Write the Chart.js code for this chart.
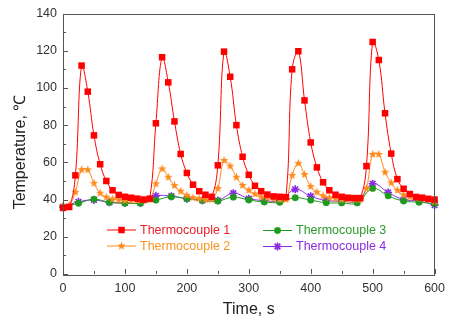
<!DOCTYPE html>
<html><head><meta charset="utf-8">
<script src="https://cdn.jsdelivr.net/npm/chart.js@4.4.1/dist/chart.umd.min.js"></script>
<style>html,body{margin:0;padding:0;background:#fff;}#wrap{width:452px;height:323px;}</style>
</head><body><div id="wrap"><canvas id="c" width="452" height="323"></canvas></div>
<script>
// ---- data ----
const timesA = [0,10,20,30,40,50,60,70,80,90,100,110,120,130,140,150,160,170,180,190,200,210,220,230,240,250,260,270,280,290,300,310,320,330,340,350,360,370,380,390,400,410,420,430,440,450,460,470,480,490,500,510,520,530,540,550,560,570,580,590,600];
const tc1 = [35.5,36,53,112,98,74.5,59,50,45,42.5,41.5,41,40.5,40,40.5,81,116.5,103,82,64.5,54.3,48,44.5,42.6,41.5,58.4,119.5,106,80,63,53.3,47.4,44.5,42.7,41.7,41.5,41.3,110,119.7,93.3,70.7,57.3,49.3,45,42.6,41.5,41,40.8,40.8,58,124.7,115,86.4,64.7,51,45.8,43,41.4,41,40.4,40];
const tc2 = [36.5,37,44,56,56,48.8,43.4,41.3,40.3,39.8,39.5,39.5,39.5,39.5,40,48.5,56.5,52,47.5,44.5,42.3,41,40.5,40,40,46,61,58,52,47.6,45,43,41.5,41,40.5,40,40,53,59.5,53.5,47,44,42,41,40.5,40,40,40,40,46,64.3,64.3,54.7,49,45,42.5,41.5,41,40.5,40,39];
const timesB = [0,25,50,75,100,125,150,175,200,225,250,275,300,325,350,375,400,425,450,475,500,525,550,575,600];
const tc3 = [36,38,40.2,38.5,38,38,39.7,41.5,40.5,39.5,39.2,41.3,39.8,38.7,38.5,41,39.7,38.3,38.2,38.2,46,42,39.2,38.6,37.8];
const tc4 = [36,38.8,39.8,38.5,38.3,38.2,42,41.8,40.5,39.6,39.5,43.4,40.5,39.5,39.3,45.5,41.8,39.5,39.2,39.2,48.5,43.8,40,39.3,37];
const xTicks = [0,100,200,300,400,500,600];
const yTicks = [0,20,40,60,80,100,120,140];
const seriesNames = ['Thermocouple 1','Thermocouple 2','Thermocouple 3','Thermocouple 4'];
const xTitle = 'Time, s';
const yTitle = 'Temperature, \u2103';

// ---- styles ----
const colors = ['#ff0000','#ff8a1c','#1e9a1e','#8a2be2'];
const textColors = ['#e8202a','#f7941d','#2a9a2a','#8a2be2'];
function starCanvas(color, R, r){
  const size = Math.ceil(R*2+2);
  const c = document.createElement('canvas');
  c.width = size; c.height = size;
  const g = c.getContext('2d');
  g.translate(size/2, size/2);
  g.beginPath();
  for(let i=0;i<10;i++){const rad=i%2?r:R;const a=-Math.PI/2+i*Math.PI/5;g.lineTo(rad*Math.cos(a),rad*Math.sin(a));}
  g.closePath(); g.fillStyle=color; g.fill();
  return c;
}
const star5 = starCanvas(colors[1], 4.4, 1.9);
const toXY = (xs, ys) => xs.map((x,i)=>({x:x,y:ys[i]}));

const datasets = [
  {label:seriesNames[0], data:toXY(timesA,tc1), borderColor:colors[0], backgroundColor:colors[0], borderWidth:1,
   pointStyle:'rect', pointRadius:4.6, pointBorderWidth:0, pointBackgroundColor:colors[0]},
  {label:seriesNames[1], data:toXY(timesA,tc2), borderColor:colors[1], backgroundColor:colors[1], borderWidth:1,
   pointStyle:star5, pointRadius:4.5, pointBorderWidth:0},
  {label:seriesNames[2], data:toXY(timesB,tc3), borderColor:colors[2], backgroundColor:colors[2], borderWidth:1,
   pointStyle:'circle', pointRadius:3.2, pointBorderWidth:0.5, pointBorderColor:colors[2], pointBackgroundColor:colors[2]},
  {label:seriesNames[3], data:toXY(timesB,tc4), borderColor:colors[3], backgroundColor:colors[3], borderWidth:1,
   pointStyle:'star', pointRadius:4, pointBorderWidth:1.6, pointBorderColor:colors[3]}
];

const FONT = 'Arial, "Liberation Sans", sans-serif';

const framePlugin = {
  id:'frame',
  afterDatasetsDraw(chart){
    const ctx = chart.ctx, a = chart.chartArea;
    const xs = chart.scales.x, ys = chart.scales.y;
    ctx.save();
    ctx.strokeStyle = '#555'; ctx.lineWidth = 1;
    ctx.strokeRect(Math.round(a.left)+0.5, Math.round(a.top)+0.5, Math.round(a.right-a.left)-1, Math.round(a.bottom-a.top));
    ctx.beginPath();
    xTicks.forEach((v,i)=>{
      const px = Math.round(xs.getPixelForValue(v))+0.5;
      ctx.moveTo(px, a.bottom); ctx.lineTo(px, a.bottom-5);
      if(i<xTicks.length-1){const m=Math.round(xs.getPixelForValue((v+xTicks[i+1])/2))+0.5;ctx.moveTo(m,a.bottom);ctx.lineTo(m,a.bottom-3);}
    });
    yTicks.forEach((v,i)=>{
      const py = Math.round(ys.getPixelForValue(v))+0.5;
      ctx.moveTo(a.left, py); ctx.lineTo(a.left+5, py);
      if(i<yTicks.length-1){const m=Math.round(ys.getPixelForValue((v+yTicks[i+1])/2))+0.5;ctx.moveTo(a.left,m);ctx.lineTo(a.left+3,m);}
    });
    ctx.stroke();
    ctx.restore();
  },
  afterDraw(chart){
    const ctx = chart.ctx, a = chart.chartArea;
    ctx.save();
    // axis titles
    ctx.fillStyle = '#222';
    ctx.font = '16px ' + FONT;
    ctx.textAlign = 'center'; ctx.textBaseline = 'middle';
    ctx.fillText(xTitle, (a.left+a.right)/2, 310);
    ctx.translate(21, 152); ctx.rotate(-Math.PI/2);
    ctx.fillText(yTitle, 0, 0);
    ctx.restore();
    // legend
    ctx.save();
    const pos = [[107,230],[107,246],[263,230.5],[263,246.5]];
    chart.data.datasets.forEach((ds,i)=>{
      const [x0,y0] = pos[i];
      ctx.strokeStyle = ds.borderColor; ctx.lineWidth = 1;
      ctx.beginPath(); ctx.moveTo(x0, y0); ctx.lineTo(x0+29, y0); ctx.stroke();
      ctx.fillStyle = ds.pointBackgroundColor || ds.backgroundColor;
      ctx.strokeStyle = ds.pointBorderColor || ds.borderColor;
      ctx.lineWidth = ds.pointBorderWidth;
      Chart.helpers.drawPoint(ctx, {pointStyle:ds.pointStyle, radius:ds.pointRadius, rotation:0, borderWidth:ds.pointBorderWidth}, x0+14.5, y0);
      ctx.fillStyle = textColors[i];
      ctx.font = '12.5px ' + FONT;
      ctx.textAlign = 'left'; ctx.textBaseline = 'middle';
      ctx.fillText(ds.label, x0+33, y0+0.5);
    });
    ctx.restore();
  }
};

new Chart(document.getElementById('c'), {
  type:'line',
  data:{datasets:datasets},
  options:{
    responsive:false, animation:false, devicePixelRatio:1,
    layout:{padding:{left:0,right:13,top:12,bottom:0}},
    elements:{line:{tension:0.4}},
    datasets:{line:{clip:false}},
    plugins:{legend:{display:false}, tooltip:{enabled:false}},
    scales:{
      x:{type:'linear', min:0, max:600,
         afterBuildTicks:s=>{s.ticks = xTicks.map(v=>({value:v}));},
         afterFit:s=>{s.height = 49;},
         grid:{display:false, drawTicks:false}, border:{display:false},
         ticks:{color:'#333', padding:7, font:{size:12.5, family:FONT}, maxRotation:0}},
      y:{type:'linear', min:0, max:140,
         afterBuildTicks:s=>{s.ticks = yTicks.map(v=>({value:v}));},
         afterFit:s=>{s.width = 63;},
         grid:{display:false, drawTicks:false}, border:{display:false},
         ticks:{color:'#333', padding:6, font:{size:12.5, family:FONT}}}
    }
  },
  plugins:[framePlugin]
});
</script></body></html>
